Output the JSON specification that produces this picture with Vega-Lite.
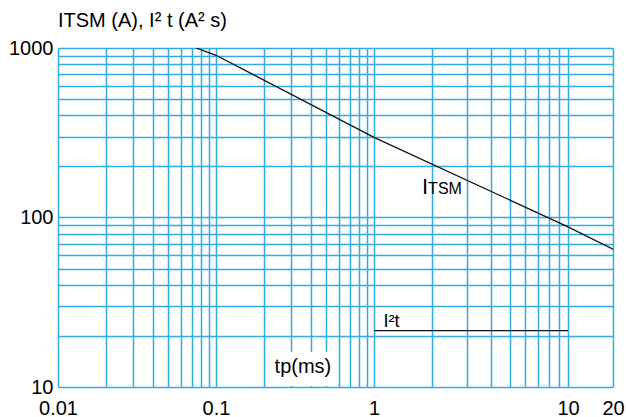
{
  "$schema": "https://vega.github.io/schema/vega-lite/v6.json",
  "width": 555,
  "height": 339,
  "autosize": {"type": "none"},
  "padding": {"left": 58, "top": 48, "right": 13, "bottom": 30},
  "background": "white",
  "config": {"view": {"stroke": null}, "font": "Liberation Sans"},
  "title": {
    "text": "ITSM (A), I² t (A² s)",
    "anchor": "start",
    "frame": "group",
    "font": "Liberation Sans",
    "fontSize": 20,
    "fontWeight": "normal",
    "color": "#000000",
    "offset": 7
  },
  "datasets": {
    "curves": [
      {"series": "ITSM", "t": 0.075, "v": 1000},
      {"series": "ITSM", "t": 0.1, "v": 906},
      {"series": "ITSM", "t": 1, "v": 297},
      {"series": "ITSM", "t": 10, "v": 88},
      {"series": "ITSM", "t": 20, "v": 65},
      {"series": "I2t", "t": 1, "v": 21.5},
      {"series": "I2t", "t": 10, "v": 21.5}
    ],
    "labels": [
      {"name": "tp", "label": "tp(ms)", "t": 0.355, "v": 12.1},
      {"name": "i2t", "label": "I²t", "t": 1.12, "v": 22.6},
      {"name": "itsm", "label": "ITSM", "t": 1.77, "v": 137}
    ]
  },
  "encoding": {
    "x": {
      "field": "t",
      "type": "quantitative",
      "scale": {"type": "log", "domain": [0.01, 0.1, 1, 10, 20], "range": [0, 158, 316, 510, 555], "nice": false, "zero": false},
      "axis": {
        "orient": "bottom",
        "title": null,
        "values": [0.01, 0.02, 0.03, 0.04, 0.05, 0.06, 0.07, 0.08, 0.09, 0.1, 0.2, 0.3, 0.4, 0.5, 0.6, 0.7, 0.8, 0.9, 1, 2, 3, 4, 5, 6, 7, 8, 9, 10, 20],
        "labelExpr": "indexof([0.01, 0.1, 1, 10, 20], datum.value) >= 0 ? format(datum.value, '~g') : ''",
        "grid": true,
        "gridColor": "#33abe0",
        "gridWidth": 1.5,
        "gridOpacity": 1,
        "ticks": false,
        "domain": false,
        "labelFont": "Liberation Sans",
        "labelFontSize": 20,
        "labelColor": "#000000",
        "labelPadding": 11,
        "labelOverlap": false,
        "labelFlush": false,
        "labelBound": false
      }
    },
    "y": {
      "field": "v",
      "type": "quantitative",
      "scale": {"type": "log", "domain": [10, 1000], "nice": false, "zero": false},
      "axis": {
        "orient": "left",
        "title": null,
        "values": [10, 20, 30, 40, 50, 60, 70, 80, 90, 100, 200, 300, 400, 500, 600, 700, 800, 900, 1000],
        "labelExpr": "indexof([10, 100, 1000], datum.value) >= 0 ? format(datum.value, '~g') : ''",
        "grid": true,
        "gridColor": "#33abe0",
        "gridWidth": 1.5,
        "gridOpacity": 1,
        "ticks": false,
        "domain": false,
        "labelFont": "Liberation Sans",
        "labelFontSize": 20,
        "labelColor": "#000000",
        "labelPadding": 5,
        "labelOverlap": false,
        "labelFlush": false,
        "labelBound": false
      }
    }
  },
  "layer": [
    {
      "data": {"name": "labels"},
      "transform": [{"filter": "datum.name == 'tp'"}],
      "mark": {"type": "rect", "fill": "white", "width": 62, "height": 34, "yOffset": -4}
    },
    {
      "data": {"name": "curves"},
      "mark": {"type": "line", "color": "#111111", "strokeWidth": 1.3, "clip": true},
      "encoding": {"detail": {"field": "series"}}
    },
    {
      "data": {"name": "labels"},
      "transform": [{"filter": "datum.name == 'tp'"}],
      "mark": {"type": "text", "fontSize": 20, "align": "center", "baseline": "alphabetic", "color": "#000000", "font": "Liberation Sans"},
      "encoding": {"text": {"field": "label"}}
    },
    {
      "data": {"name": "labels"},
      "transform": [{"filter": "datum.name == 'i2t'"}],
      "mark": {"type": "text", "fontSize": 18, "align": "left", "baseline": "alphabetic", "color": "#000000", "font": "Liberation Sans"},
      "encoding": {"text": {"field": "label"}}
    },
    {
      "data": {"name": "labels"},
      "transform": [{"filter": "datum.name == 'itsm'"}],
      "mark": {"type": "text", "fontSize": 22, "align": "left", "baseline": "alphabetic", "color": "#000000", "font": "Liberation Sans"},
      "encoding": {"text": {"value": "I"}}
    },
    {
      "data": {"name": "labels"},
      "transform": [{"filter": "datum.name == 'itsm'"}],
      "mark": {"type": "text", "fontSize": 16, "align": "left", "baseline": "alphabetic", "dx": 6, "color": "#000000", "font": "Liberation Sans"},
      "encoding": {"text": {"value": "TSM"}}
    }
  ]
}
